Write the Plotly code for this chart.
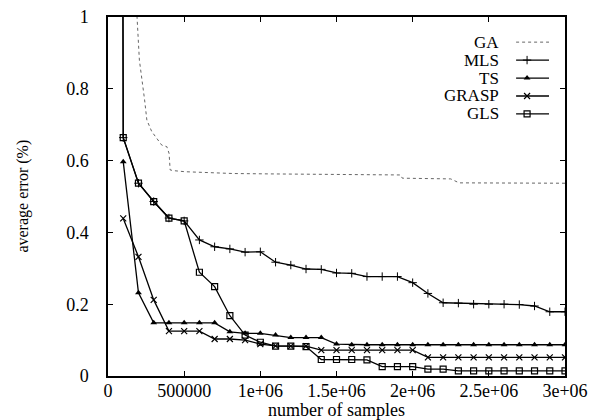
import plotly.graph_objects as go

# ---------------- data ----------------
samples = [i * 100000 for i in range(1, 31)]

gls_x = [0] + samples
gls_y = [20.0, 0.664, 0.537, 0.486, 0.440, 0.432, 0.289, 0.249, 0.168, 0.114, 0.094,
         0.083, 0.083, 0.082, 0.046, 0.046, 0.046, 0.045, 0.026, 0.026, 0.026,
         0.019, 0.019, 0.014, 0.014, 0.014, 0.014, 0.014, 0.014, 0.014, 0.014]

mls_x = [0] + samples
mls_y = [20.0, 0.664, 0.537, 0.486, 0.440, 0.432, 0.379, 0.360, 0.354, 0.345, 0.346,
         0.317, 0.309, 0.298, 0.297, 0.287, 0.286, 0.277, 0.277, 0.277, 0.260,
         0.230, 0.204, 0.203, 0.200, 0.200, 0.200, 0.199, 0.195, 0.179, 0.179]

ts_x = samples
ts_y = [0.597, 0.232, 0.148, 0.148, 0.148, 0.148, 0.148, 0.123, 0.119, 0.119,
        0.114, 0.107, 0.107, 0.107, 0.089, 0.087, 0.087, 0.087, 0.087, 0.087,
        0.087, 0.087, 0.087, 0.087, 0.087, 0.087, 0.087, 0.087, 0.087, 0.087]

grasp_x = samples
grasp_y = [0.439, 0.332, 0.212, 0.125, 0.125, 0.125, 0.103, 0.103, 0.100, 0.089,
           0.084, 0.083, 0.083, 0.072, 0.072, 0.072, 0.072, 0.072, 0.072, 0.072,
           0.052, 0.052, 0.052, 0.052, 0.052, 0.052, 0.052, 0.052, 0.052, 0.052]

ga_x = [188000, 206000, 240000, 255000, 287000, 331000, 353000, 386000, 401000,
        408000, 430000, 507000, 822000, 1044000, 1570000, 1921000, 1932000,
        2250000, 2305000, 3000000]
ga_y = [1.02, 0.88, 0.77, 0.713, 0.681, 0.657, 0.643, 0.639, 0.620, 0.574, 0.572,
        0.569, 0.564, 0.563, 0.560, 0.560, 0.551, 0.549, 0.538, 0.537]

x_ticks = [0, 500000, 1000000, 1500000, 2000000, 2500000, 3000000]
x_tick_labels = ["0", "500000", "1e+06", "1.5e+06", "2e+06", "2.5e+06", "3e+06"]
y_ticks = [0, 0.2, 0.4, 0.6, 0.8, 1.0]
y_tick_labels = ["0", "0.2", "0.4", "0.6", "0.8", "1"]

series_names = ["GA", "MLS", "TS", "GRASP", "GLS"]

# ---------------- styles ----------------
FONT = "Liberation Serif"
BLACK = "#000000"
styles = {
    "GA": dict(line=dict(color="#666666", width=1, dash="dot"), mode="lines", marker=None),
    "MLS": dict(line=dict(color=BLACK, width=1.3), mode="lines+markers",
                marker=dict(symbol="cross-thin", size=6, line=dict(color=BLACK, width=1))),
    "TS": dict(line=dict(color=BLACK, width=1.3), mode="lines+markers",
               marker=dict(symbol="triangle-up", size=6, color=BLACK)),
    "GRASP": dict(line=dict(color=BLACK, width=1.3), mode="lines+markers",
                  marker=dict(symbol="x-thin", size=6, line=dict(color=BLACK, width=1.2))),
    "GLS": dict(line=dict(color=BLACK, width=1.3), mode="lines+markers",
                marker=dict(symbol="square-open", size=6, color=BLACK, line=dict(width=1.2))),
}

data = {
    "GA": (ga_x, ga_y),
    "MLS": (mls_x, mls_y),
    "TS": (ts_x, ts_y),
    "GRASP": (grasp_x, grasp_y),
    "GLS": (gls_x, gls_y),
}

fig = go.Figure()
for name in series_names:
    xs, ys = data[name]
    st = styles[name]
    kw = dict(x=xs, y=ys, name=name, mode=st["mode"], line=st["line"], showlegend=False)
    if st["marker"] is not None:
        kw["marker"] = st["marker"]
    fig.add_trace(go.Scatter(**kw))

# ---------------- custom gnuplot-style key ----------------
key_text_x = 0.860
key_line = (0.893, 0.965)
key_marker_x = 0.917
key_y0, key_dy = 0.930, 0.050
for i, name in enumerate(series_names):
    yk = key_y0 - i * key_dy
    st = styles[name]
    fig.add_trace(go.Scatter(x=list(key_line), y=[yk, yk], mode="lines", line=st["line"],
                             xaxis="x2", yaxis="y2", showlegend=False, hoverinfo="skip"))
    if st["marker"] is not None:
        fig.add_trace(go.Scatter(x=[key_marker_x], y=[yk], mode="markers", marker=st["marker"],
                                 xaxis="x2", yaxis="y2", showlegend=False, hoverinfo="skip"))
    fig.add_annotation(x=key_text_x, y=yk, xref="paper", yref="paper", text=name,
                       showarrow=False, xanchor="right", yanchor="middle",
                       font=dict(family=FONT, size=17, color=BLACK))

# axis titles
fig.add_annotation(x=0.5, y=-0.094, xref="paper", yref="paper", text="number of samples",
                   showarrow=False, xanchor="center", yanchor="middle",
                   font=dict(family=FONT, size=18, color=BLACK))
fig.add_annotation(x=-0.188, y=0.5, xref="paper", yref="paper", text="average error (%)",
                   showarrow=False, xanchor="center", yanchor="middle", textangle=-90,
                   font=dict(family=FONT, size=16, color=BLACK))

axis_common = dict(showline=True, linecolor=BLACK, linewidth=1.5, mirror="ticks",
                   ticks="inside", ticklen=5, tickwidth=1, tickcolor=BLACK,
                   showgrid=False, zeroline=False,
                   tickfont=dict(family=FONT, size=18, color=BLACK))

fig.update_layout(
    width=597, height=420,
    margin=dict(l=108, r=32, t=17, b=44, autoexpand=False),
    paper_bgcolor="white", plot_bgcolor="white",
    xaxis=dict(range=[0, 3000000], tickvals=x_ticks, ticktext=x_tick_labels,
               ticklabelstandoff=-2, **axis_common),
    yaxis=dict(range=[0, 1], tickvals=y_ticks, ticktext=y_tick_labels,
               ticklabelstandoff=14, **axis_common),
    xaxis2=dict(range=[0, 1], overlaying="x", visible=False, domain=[0, 1], anchor="y2"),
    yaxis2=dict(range=[0, 1], overlaying="y", visible=False, domain=[0, 1], anchor="x2"),
    font=dict(family=FONT, color=BLACK),
)

fig.write_html("out.html", config={"displayModeBar": False},
               post_script="document.body.style.margin='0';document.body.style.overflow='hidden';")
